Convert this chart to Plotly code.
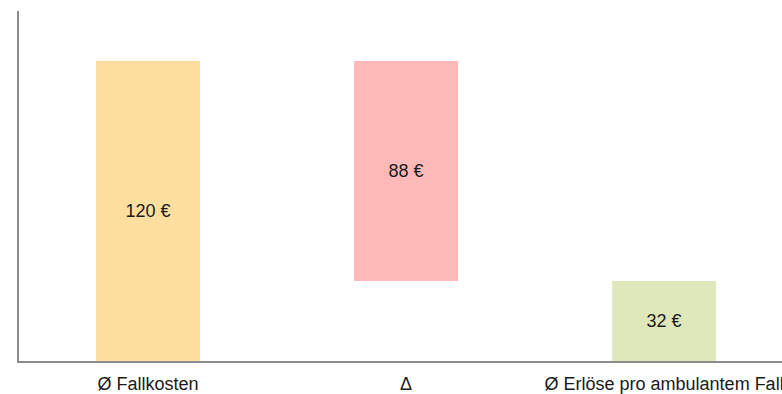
import plotly.graph_objects as go

# Cost bridge: average case cost, gap, average revenue per outpatient case
categories = ["Ø Fallkosten", "Δ", "Ø Erlöse pro ambulantem Fall"]
values = [120, 88, 32]
bases = [0, 32, 0]
colors = ["#FFDFA0", "#FFB9B9", "#DFE8BB"]
labels = [f"{v} €" for v in values]

fig = go.Figure(
    go.Bar(
        x=categories,
        y=values,
        base=bases,
        marker=dict(color=colors, line=dict(width=0)),
        text=labels,
        textposition="inside",
        insidetextanchor="middle",
        textfont=dict(family="Liberation Sans, Arial", size=18, color="#1a1a1a"),
        textangle=0,
        hoverinfo="skip",
    )
)

fig.update_layout(
    width=782,
    height=394,
    margin=dict(l=19, r=0, t=11, b=33, pad=0),
    paper_bgcolor="white",
    plot_bgcolor="white",
    bargap=0.597,
    showlegend=False,
    font=dict(family="Liberation Sans, Arial", size=18, color="#1a1a1a"),
)

fig.update_xaxes(
    range=[-0.5, 2.457],
    automargin=False,
    showline=True,
    linecolor="#8c8c8c",
    linewidth=1.5,
    showgrid=False,
    ticks="outside",
    tickcolor="rgba(0,0,0,0)",
    ticklen=6,
    tickfont=dict(size=18),
)
fig.update_yaxes(
    range=[0, 140],
    automargin=False,
    showline=True,
    linecolor="#8c8c8c",
    linewidth=1.5,
    showgrid=False,
    zeroline=False,
    showticklabels=False,
    ticks="",
)

fig.write_html("out.html")
